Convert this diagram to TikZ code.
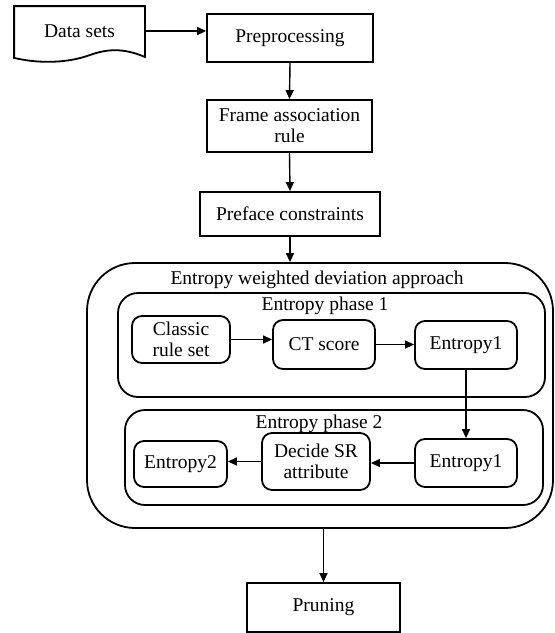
\documentclass[tikz,border=0pt]{standalone}
\usepackage{fontspec}
\setmainfont{Liberation Serif}
\usetikzlibrary{arrows.meta}
\begin{document}
\begin{tikzpicture}[x=1pt,y=-1pt,
  every node/.style={font=\fontsize{19.5}{21}\selectfont, align=center, inner sep=0pt, line width=1.8pt},
  sqbox/.style={draw, rectangle},
  rbox/.style={draw, rounded corners=10pt},
  frame/.style={draw, rounded corners=#1},
  lbl/.style={},
  arr/.style={line width=1.4pt, -{Triangle[length=9pt,width=8pt]}}
]
\useasboundingbox (0,0) rectangle (555,633);
% Data sets (document shape)
\node (ds) at (79.5,31) [minimum width=129pt, minimum height=48pt] {Data sets};
\draw[line width=1.8pt] (ds.south west) -- (ds.north west) -- (ds.north east) -- ([yshift=-1pt]ds.south east)
  .. controls (128,50) and (112,47) .. (90,55)
  .. controls (68,63) and (40,64) .. ([yshift=-2pt]ds.south west) -- cycle;
\node[sqbox, minimum width=166pt, minimum height=48pt] (pre) at (290,38) {Preprocessing};
\node[sqbox, minimum width=165pt, minimum height=52pt] (fra) at (289.5,126) {Frame association\\rule};
\node[sqbox, minimum width=180pt, minimum height=44pt] (pref) at (290,214) {Preface constraints};
% Outer frame
\node[frame=48pt, minimum width=466pt, minimum height=265pt] (outer) at (320,395.5) {};
\node[lbl] (otitle) at (317,280) {Entropy weighted deviation approach};
% Phase 1
\node[frame=20pt, minimum width=427pt, minimum height=104pt] (ph1) at (331.5,345) {};
\node[lbl] (t1) at (325,306) {Entropy phase 1};
% Phase 2
\node[frame=20pt, minimum width=418pt, minimum height=95pt] (ph2) at (334,457.5) {};
\node[lbl] (t2) at (319,424) {Entropy phase 2};
% inner boxes
\node[rbox, minimum width=98pt, minimum height=47pt] (cls) at (181,339.5) {Classic\\rule set};
\node[rbox, minimum width=102pt, minimum height=49pt] (ct) at (324,344.5) {CT score};
\node[rbox, minimum width=102pt, minimum height=48pt] (e1a) at (466,345) {Entropy1};
\node[rbox, minimum width=93pt, minimum height=46pt] (e2) at (180.5,464) {Entropy2};
\node[rbox, minimum width=108pt, minimum height=57pt] (dec) at (316,461.5) {Decide SR\\attribute};
\node[rbox, minimum width=102pt, minimum height=48pt] (e1b) at (466,463) {Entropy1};
\node[sqbox, minimum width=153pt, minimum height=49pt] (pru) at (323.5,607.5) {Pruning};
% arrows
\draw[arr] (ds.east) -- (ds.east -| pre.west);
\draw[arr] (pre.south) -- (fra.north);
\draw[arr] (fra.south) -- (pref.north);
\draw[arr] (pref.south) -- (pref.south |- outer.north);
\draw[arr] (cls.east) -- (cls.east -| ct.west);
\draw[arr] (ct.east) -- (ct.east -| e1a.west);
\draw[arr] (e1a.south) -- (e1b.north);
\draw[arr] (e1b.west) -- (e1b.west -| dec.east);
\draw[arr] (dec.west) -- (dec.west -| e2.east);
\draw[arr] (pru.north |- outer.south) -- (pru.north);
\end{tikzpicture}
\end{document}
